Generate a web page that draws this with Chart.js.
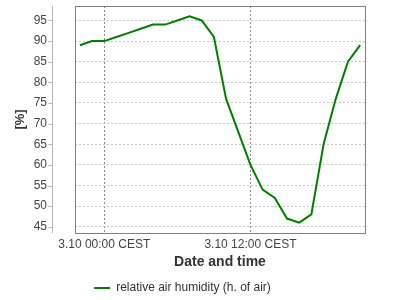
<!DOCTYPE html>
<html lang="en">
<head>
  <meta charset="UTF-8" />
  <title>Relative air humidity</title>
  <script src="https://cdn.jsdelivr.net/npm/chart.js"></script>
  <style>
    body {
      margin: 0;
      background: #ffffff;
    }
  </style>
</head>
<body>
  <canvas id="humidityChart" width="400" height="300"></canvas>

<script>
  // hours relative to 3.10 00:00 CEST
  const hours = [-2, -1, 0, 1, 2, 3, 4, 5, 6, 7, 8, 9, 10, 11, 12, 13, 14, 15, 16, 17, 18, 19, 20, 21];
  const humidity = [89, 90, 90, 91, 92, 93, 94, 94, 95, 96, 95, 91, 76, 68, 60, 54, 52, 47, 46, 48, 65, 76, 85, 89];

  const xTickValues = [0, 12];
  const xTickLabels = ['3.10 00:00 CEST', '3.10 12:00 CEST'];
  const yTickValues = [45, 50, 55, 60, 65, 70, 75, 80, 85, 90, 95];

  const lineColor = '#008000';
  const textColor = '#333333';
  const tickColor = '#444444';

  // plot frame and the detached y axis line
  const framePlugin = {
    id: 'frame',
    afterDraw(chart) {
      const ctx = chart.ctx;
      const area = chart.chartArea;
      const yScale = chart.scales.y;
      ctx.save();
      ctx.strokeStyle = '#808080';
      ctx.lineWidth = 1;
      ctx.strokeRect(area.left + 0.5, area.top + 0.5, area.right - area.left, area.bottom - area.top);

      const axisX = area.left - 22.5;
      ctx.strokeStyle = '#b4b4b4';
      ctx.beginPath();
      ctx.moveTo(axisX, area.top);
      ctx.lineTo(axisX, area.bottom);
      yScale.ticks.forEach(t => {
        const py = Math.round(yScale.getPixelForValue(t.value)) + 0.5;
        ctx.moveTo(axisX - 4, py);
        ctx.lineTo(axisX, py);
      });
      ctx.stroke();
      ctx.restore();
    }
  };

  new Chart(document.getElementById('humidityChart'), {
    type: 'line',
    data: {
      datasets: [{
        label: 'relative air humidity (h. of air)',
        data: hours.map((h, i) => ({ x: h, y: humidity[i] })),
        borderColor: lineColor,
        backgroundColor: lineColor,
        borderWidth: 2,
        pointRadius: 0,
        tension: 0,
        pointStyle: 'line'
      }]
    },
    options: {
      responsive: false,
      animation: false,
      layout: {
        padding: { top: 6, right: 35, left: 0, bottom: -4 }
      },
      plugins: {
        tooltip: { enabled: false },
        legend: {
          position: 'bottom',
          labels: {
            usePointStyle: true,
            pointStyleWidth: 16,
            color: textColor,
            font: { family: 'Liberation Sans', size: 12 },
            padding: 10
          }
        }
      },
      scales: {
        x: {
          type: 'linear',
          min: -2.4,
          max: 21.4,
          afterBuildTicks: scale => {
            scale.ticks = xTickValues.map(v => ({ value: v }));
          },
          afterFit: scale => {
            scale.height = 39;
          },
          ticks: {
            autoSkip: false,
            maxRotation: 0,
            padding: 4,
            color: tickColor,
            font: { family: 'Liberation Sans', size: 12 },
            callback: v => xTickLabels[xTickValues.indexOf(v)]
          },
          grid: {
            color: '#8c8c8c',
            drawTicks: false
          },
          border: { display: false, dash: [2, 2] },
          title: {
            display: true,
            text: 'Date and time',
            color: textColor,
            font: { family: 'Liberation Sans', size: 14, weight: 'bold' },
            padding: { top: 0, bottom: 1.6 }
          }
        },
        y: {
          min: 43.5,
          max: 98.5,
          afterBuildTicks: scale => {
            scale.ticks = yTickValues.map(v => ({ value: v }));
          },
          afterFit: scale => {
            scale.width = 75;
            scale.paddingTop = 0;
            scale.paddingBottom = 0;
          },
          ticks: {
            padding: 28,
            color: tickColor,
            font: { family: 'Liberation Sans', size: 12 }
          },
          grid: {
            color: '#c8c8c8',
            drawTicks: false
          },
          border: { display: false, dash: [2, 2] },
          title: {
            display: true,
            text: '[%]',
            color: textColor,
            font: { family: 'Liberation Sans', size: 13, weight: 'bold' },
            padding: { top: 12.2, bottom: 0 }
          }
        }
      }
    },
    plugins: [framePlugin]
  });
</script>
</body>
</html>
